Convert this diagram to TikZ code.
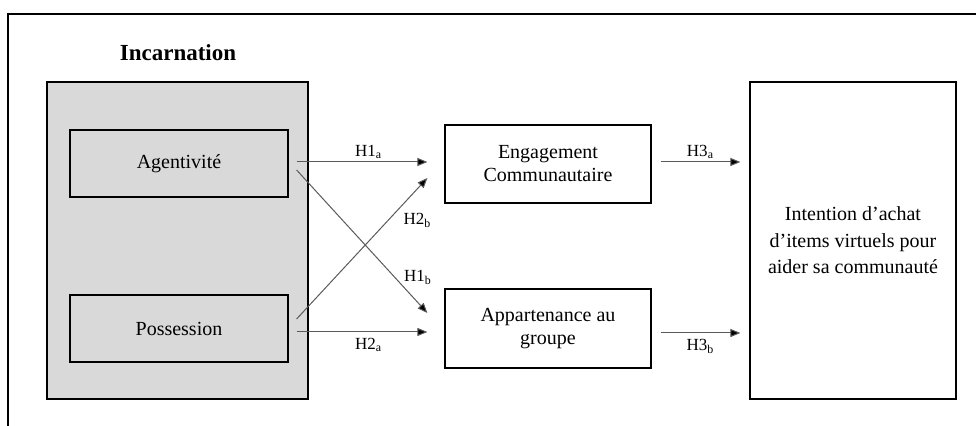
\documentclass[tikz,border=0pt]{standalone}
\usepackage{fontspec}
\setmainfont{Liberation Serif}
\usetikzlibrary{arrows.meta}
\definecolor{incgray}{RGB}{217,217,217}
\definecolor{arrgray}{RGB}{90,90,90}

\begin{document}
\begin{tikzpicture}[x=0.5pt,y=-0.5pt,
  box/.style={draw,line width=0.6pt,align=center,inner sep=0pt,font=\fontsize{10}{11.5}\selectfont},
  hyp/.style={draw=arrgray,line width=0.5pt,-{Triangle[length=5pt,width=4pt,fill=black]}},
  lab/.style={font=\fontsize{8.5}{10}\selectfont,inner sep=1.5pt}]
\useasboundingbox (0,0) rectangle (976,426);
\draw[line width=0.6pt] (976,14)--(8,14)--(8,426);

\node[font=\fontsize{11.5}{13}\selectfont\bfseries] (title) at (178,53) {Incarnation};
\node[box,fill=incgray,minimum width=130.5pt,minimum height=158.5pt] (inc) at (177.5,240.5) {};
\node[box,minimum width=109pt,minimum height=33.5pt] (ag) at (179,163.5) {Agentivité};
\node[box,minimum width=109pt,minimum height=33.5pt] (pos) at (179,328.5) {Possession};
\node[box,minimum width=103pt,minimum height=39pt] (eng) at (548,164) {Engagement\\Communautaire};
\node[box,minimum width=103pt,minimum height=39.5pt] (app) at (548,328.5) {Appartenance au\\groupe};
\node[box,minimum width=103pt,minimum height=158.5pt,font=\fontsize{10}{13.2}\selectfont] (int) at (853,240.5) {Intention d’achat\\d’items virtuels pour\\aider sa communauté};

\draw[hyp] ([shift={(8,-1.5)}]ag.east)--([shift={(-17,-2)}]eng.west) node[lab,above,pos=.55]{H1\textsubscript{a}};
\draw[hyp] ([shift={(8,6.5)}]ag.east)--([shift={(-17,-15.5)}]app.west) node[lab,anchor=west,pos=.75,xshift=3pt]{H1\textsubscript{b}};
\draw[hyp] ([shift={(8,3.5)}]pos.east)--([shift={(-17,3.5)}]app.west) node[lab,below,pos=.55,inner sep=3pt]{H2\textsubscript{a}};
\draw[hyp] ([shift={(8,-9.5)}]pos.east)--([shift={(-17,14)}]eng.west) node[lab,anchor=west,pos=.7,xshift=6pt]{H2\textsubscript{b}};
\draw[hyp] ([shift={(9,-2)}]eng.east)--([shift={(-9,-78.5)}]int.west) node[lab,above,midway]{H3\textsubscript{a}};
\draw[hyp] ([shift={(9,4.5)}]app.east)--([shift={(-9,92.5)}]int.west) node[lab,below,midway,inner sep=3pt]{H3\textsubscript{b}};
\end{tikzpicture}
\end{document}
